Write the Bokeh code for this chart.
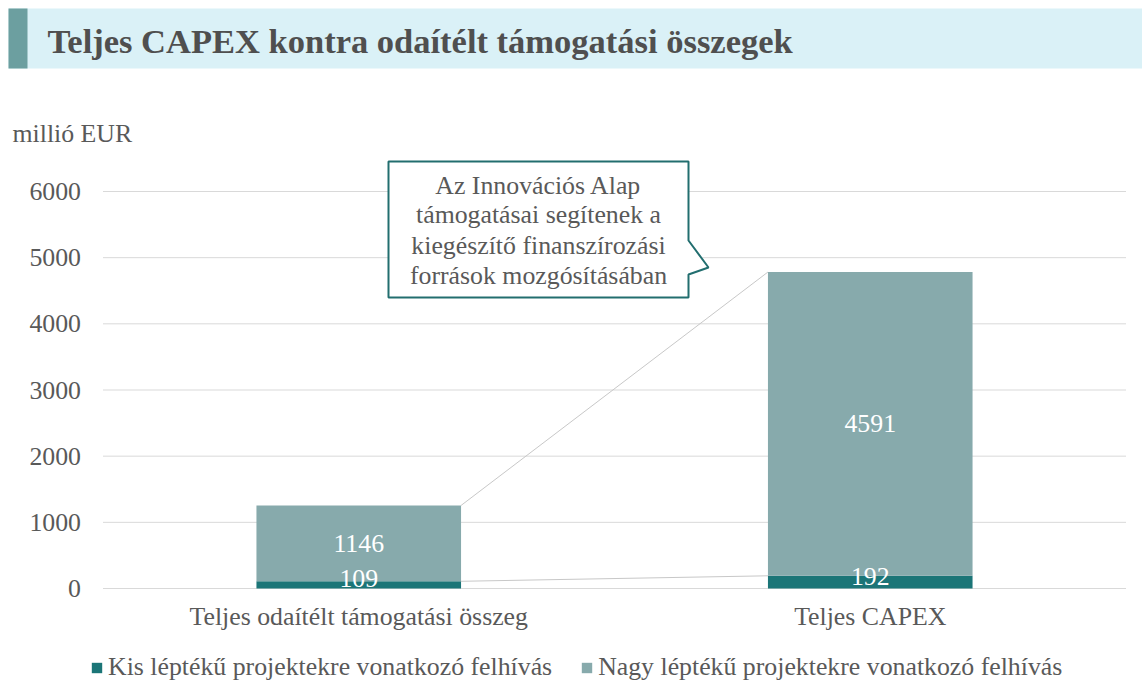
from bokeh.plotting import figure
from bokeh.models import Range1d, FixedTicker, Legend, LegendItem
from bokeh.core.properties import value
from bokeh.embed import file_html
from bokeh.resources import INLINE

# ---------------- data ----------------
categories = ["Teljes odaítélt támogatási összeg", "Teljes CAPEX"]
small_scale = [109, 192]      # Kis léptékű projektekre vonatkozó felhívás
large_scale = [1146, 4591]    # Nagy léptékű projektekre vonatkozó felhívás
series_names = ["Kis léptékű projektekre vonatkozó felhívás",
                "Nagy léptékű projektekre vonatkozó felhívás"]
y_ticks = [0, 1000, 2000, 3000, 4000, 5000, 6000]
title_text = "Teljes CAPEX kontra odaítélt támogatási összegek"
unit_text = "millió EUR"
callout_lines = ["Az Innovációs Alap", "támogatásai segítenek a",
                 "kiegészítő finanszírozási", "források mozgósításában"]

# ---------------- style ----------------
FONT = value("Liberation Serif")
FS = "25.8px"
GRAY = "#595959"
DARK = "#1B7577"
LIGHT = "#87AAAC"
BAND = "#DAF1F7"
BLOCK = "#6C9FA0"
EDGE = "#226E6F"

W, H = 1142, 682
# pixel layout of the plotting area (canvas pixels)
PX_X0, PX_UNIT = 102.5, 511.5          # x=0 position, pixels per category slot
PX_Y0, PX_PER_VAL = 588.0, 397.0 / 6000  # y=0 position, pixels per value unit


def dx(px):
    return (px - PX_X0) / PX_UNIT


def dy(py):
    return (PX_Y0 - py) / PX_PER_VAL


n = len(categories)
xs = [i + 0.5 for i in range(n)]
totals = [s + l for s, l in zip(small_scale, large_scale)]
bar_w = 0.4

p = figure(width=W, height=H, x_range=Range1d(dx(0), dx(W)), y_range=Range1d(dy(H), dy(0)),
           toolbar_location=None, output_backend="svg", min_border=0,
           outline_line_color=None)
p.grid.visible = False

# header band
p.quad(left=[dx(8)], right=[dx(W)], bottom=[dy(68)], top=[dy(8)],
       fill_color=BAND, line_color=None)
p.quad(left=[dx(8)], right=[dx(27)], bottom=[dy(68)], top=[dy(8)],
       fill_color=BLOCK, line_color=None)
p.text(x=[dx(47)], y=[dy(40)], text=[title_text], text_font=FONT, text_font_size="34.5px",
       text_font_style="bold", text_color="#4F4F4F", text_baseline="middle", text_align="left")
p.text(x=[dx(12)], y=[dy(133)], text=[unit_text], text_font=FONT, text_font_size=FS,
       text_color=GRAY, text_baseline="middle", text_align="left")

# horizontal gridlines over the plotting area
p.segment(x0=[0] * len(y_ticks), x1=[n] * len(y_ticks), y0=y_ticks, y1=y_ticks,
          line_color="#D9D9D9", line_width=1)

# connectors
p.segment(x0=[xs[0] + bar_w / 2, xs[0] + bar_w / 2], y0=[totals[0], small_scale[0]],
          x1=[xs[1] - bar_w / 2, xs[1] - bar_w / 2], y1=[totals[1], small_scale[1]],
          line_color="#C8C8C8", line_width=1)

r_small = p.vbar(x=xs, width=bar_w, bottom=0, top=small_scale, fill_color=DARK, line_color=None)
r_large = p.vbar(x=xs, width=bar_w, bottom=small_scale, top=totals, fill_color=LIGHT, line_color=None)

p.text(x=xs, y=[s / 2 for s in small_scale], text=[str(v) for v in small_scale],
       text_font=FONT, text_font_size=FS, text_color="white", y_offset=-6,
       text_align="center", text_baseline="middle")
p.text(x=xs, y=[s + l / 2 for s, l in zip(small_scale, large_scale)],
       text=[str(v) for v in large_scale],
       text_font=FONT, text_font_size=FS, text_color="white",
       text_align="center", text_baseline="middle")

# callout box
cx = [dx(388), dx(688), dx(688), dx(708), dx(688), dx(688), dx(388)]
cy = [dy(161), dy(161), dy(240), dy(267), dy(274), dy(297), dy(297)]
p.patch(x=cx, y=cy, fill_color="white", line_color=EDGE, line_width=2)
p.text(x=[dx(538)] * 4, y=[dy(185), dy(214), dy(245), dy(275)], text=callout_lines,
       text_font=FONT, text_font_size=FS, text_color=GRAY,
       text_align="center", text_baseline="middle")

# axes (drawn inside the canvas at fixed data locations)
p.yaxis.fixed_location = 0
p.yaxis.ticker = FixedTicker(ticks=y_ticks)
p.yaxis.axis_line_color = None
p.yaxis.major_tick_line_color = None
p.yaxis.minor_tick_line_color = None
p.yaxis.major_label_text_font = "Liberation Serif"
p.yaxis.major_label_text_font_size = FS
p.yaxis.major_label_text_color = GRAY
p.yaxis.major_label_standoff = 16

p.xaxis.fixed_location = 0
p.xaxis.ticker = FixedTicker(ticks=xs)
p.xaxis.major_label_overrides = {x: c for x, c in zip(xs, categories)}
p.xaxis.axis_line_color = None
p.xaxis.major_tick_line_color = None
p.xaxis.minor_tick_line_color = None
p.xaxis.major_label_text_font = "Liberation Serif"
p.xaxis.major_label_text_font_size = FS
p.xaxis.major_label_text_color = GRAY
p.xaxis.major_label_standoff = 7

legend = Legend(items=[LegendItem(label=series_names[0], renderers=[r_small]),
                       LegendItem(label=series_names[1], renderers=[r_large])],
                orientation="horizontal", location=(90, 0),
                glyph_width=13, glyph_height=13, label_standoff=5, spacing=28,
                padding=0, margin=0, border_line_color=None, background_fill_alpha=0,
                label_text_font="Liberation Serif", label_text_font_size=FS,
                label_text_color=GRAY)
p.add_layout(legend)

open("out.html", "w").write(file_html(p, INLINE))
